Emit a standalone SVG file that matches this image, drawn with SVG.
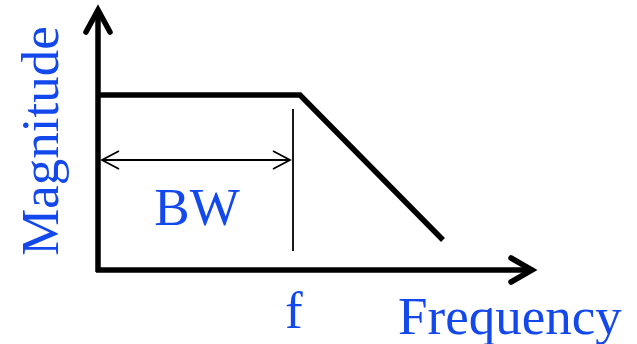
<svg xmlns="http://www.w3.org/2000/svg" width="637" height="344" viewBox="0 0 637 344">
<style>
.thick{stroke:#000;stroke-width:5.5;fill:none;stroke-linecap:butt;stroke-linejoin:miter}
.head{stroke:#000;stroke-width:5.5;fill:none;stroke-linecap:round;stroke-linejoin:miter}
.thin{stroke:#000;stroke-width:1.8;fill:none}
.lbl{font-family:"Liberation Serif","Times New Roman",serif;font-size:53px;fill:#1348ec}
</style>
<rect width="637" height="344" fill="#fff"/>
<g id="connectors">
<g id="y-axis">
<line class="thick" x1="98" y1="272" x2="98" y2="12"/>
<polyline class="head" points="86,32 98,10 110,32"/>
</g>
<g id="x-axis">
<line class="thick" x1="96" y1="270" x2="530" y2="270"/>
<polyline class="head" points="511,258 532,270 511,282"/>
</g>
<polyline id="response" class="thick" points="98,95 300,95 443,240"/>
<line id="cutoff" class="thin" x1="293" y1="109" x2="293" y2="251"/>
<g id="bw-arrow">
<line class="thin" x1="102" y1="160" x2="290" y2="160"/>
<polyline class="thin" points="119,151 102,160 119,169"/>
<polyline class="thin" points="273,151 290,160 273,169"/>
</g>
</g>
<g id="label-bw"><text class="lbl" x="197" y="225" text-anchor="middle">BW</text></g>
<g id="label-f"><text class="lbl" x="285" y="328">f</text></g>
<g id="label-frequency"><text class="lbl" x="398" y="334">Frequency</text></g>
<g id="label-magnitude"><text class="lbl" transform="translate(58,141) rotate(-90)" text-anchor="middle">Magnitude</text></g>
</svg>
